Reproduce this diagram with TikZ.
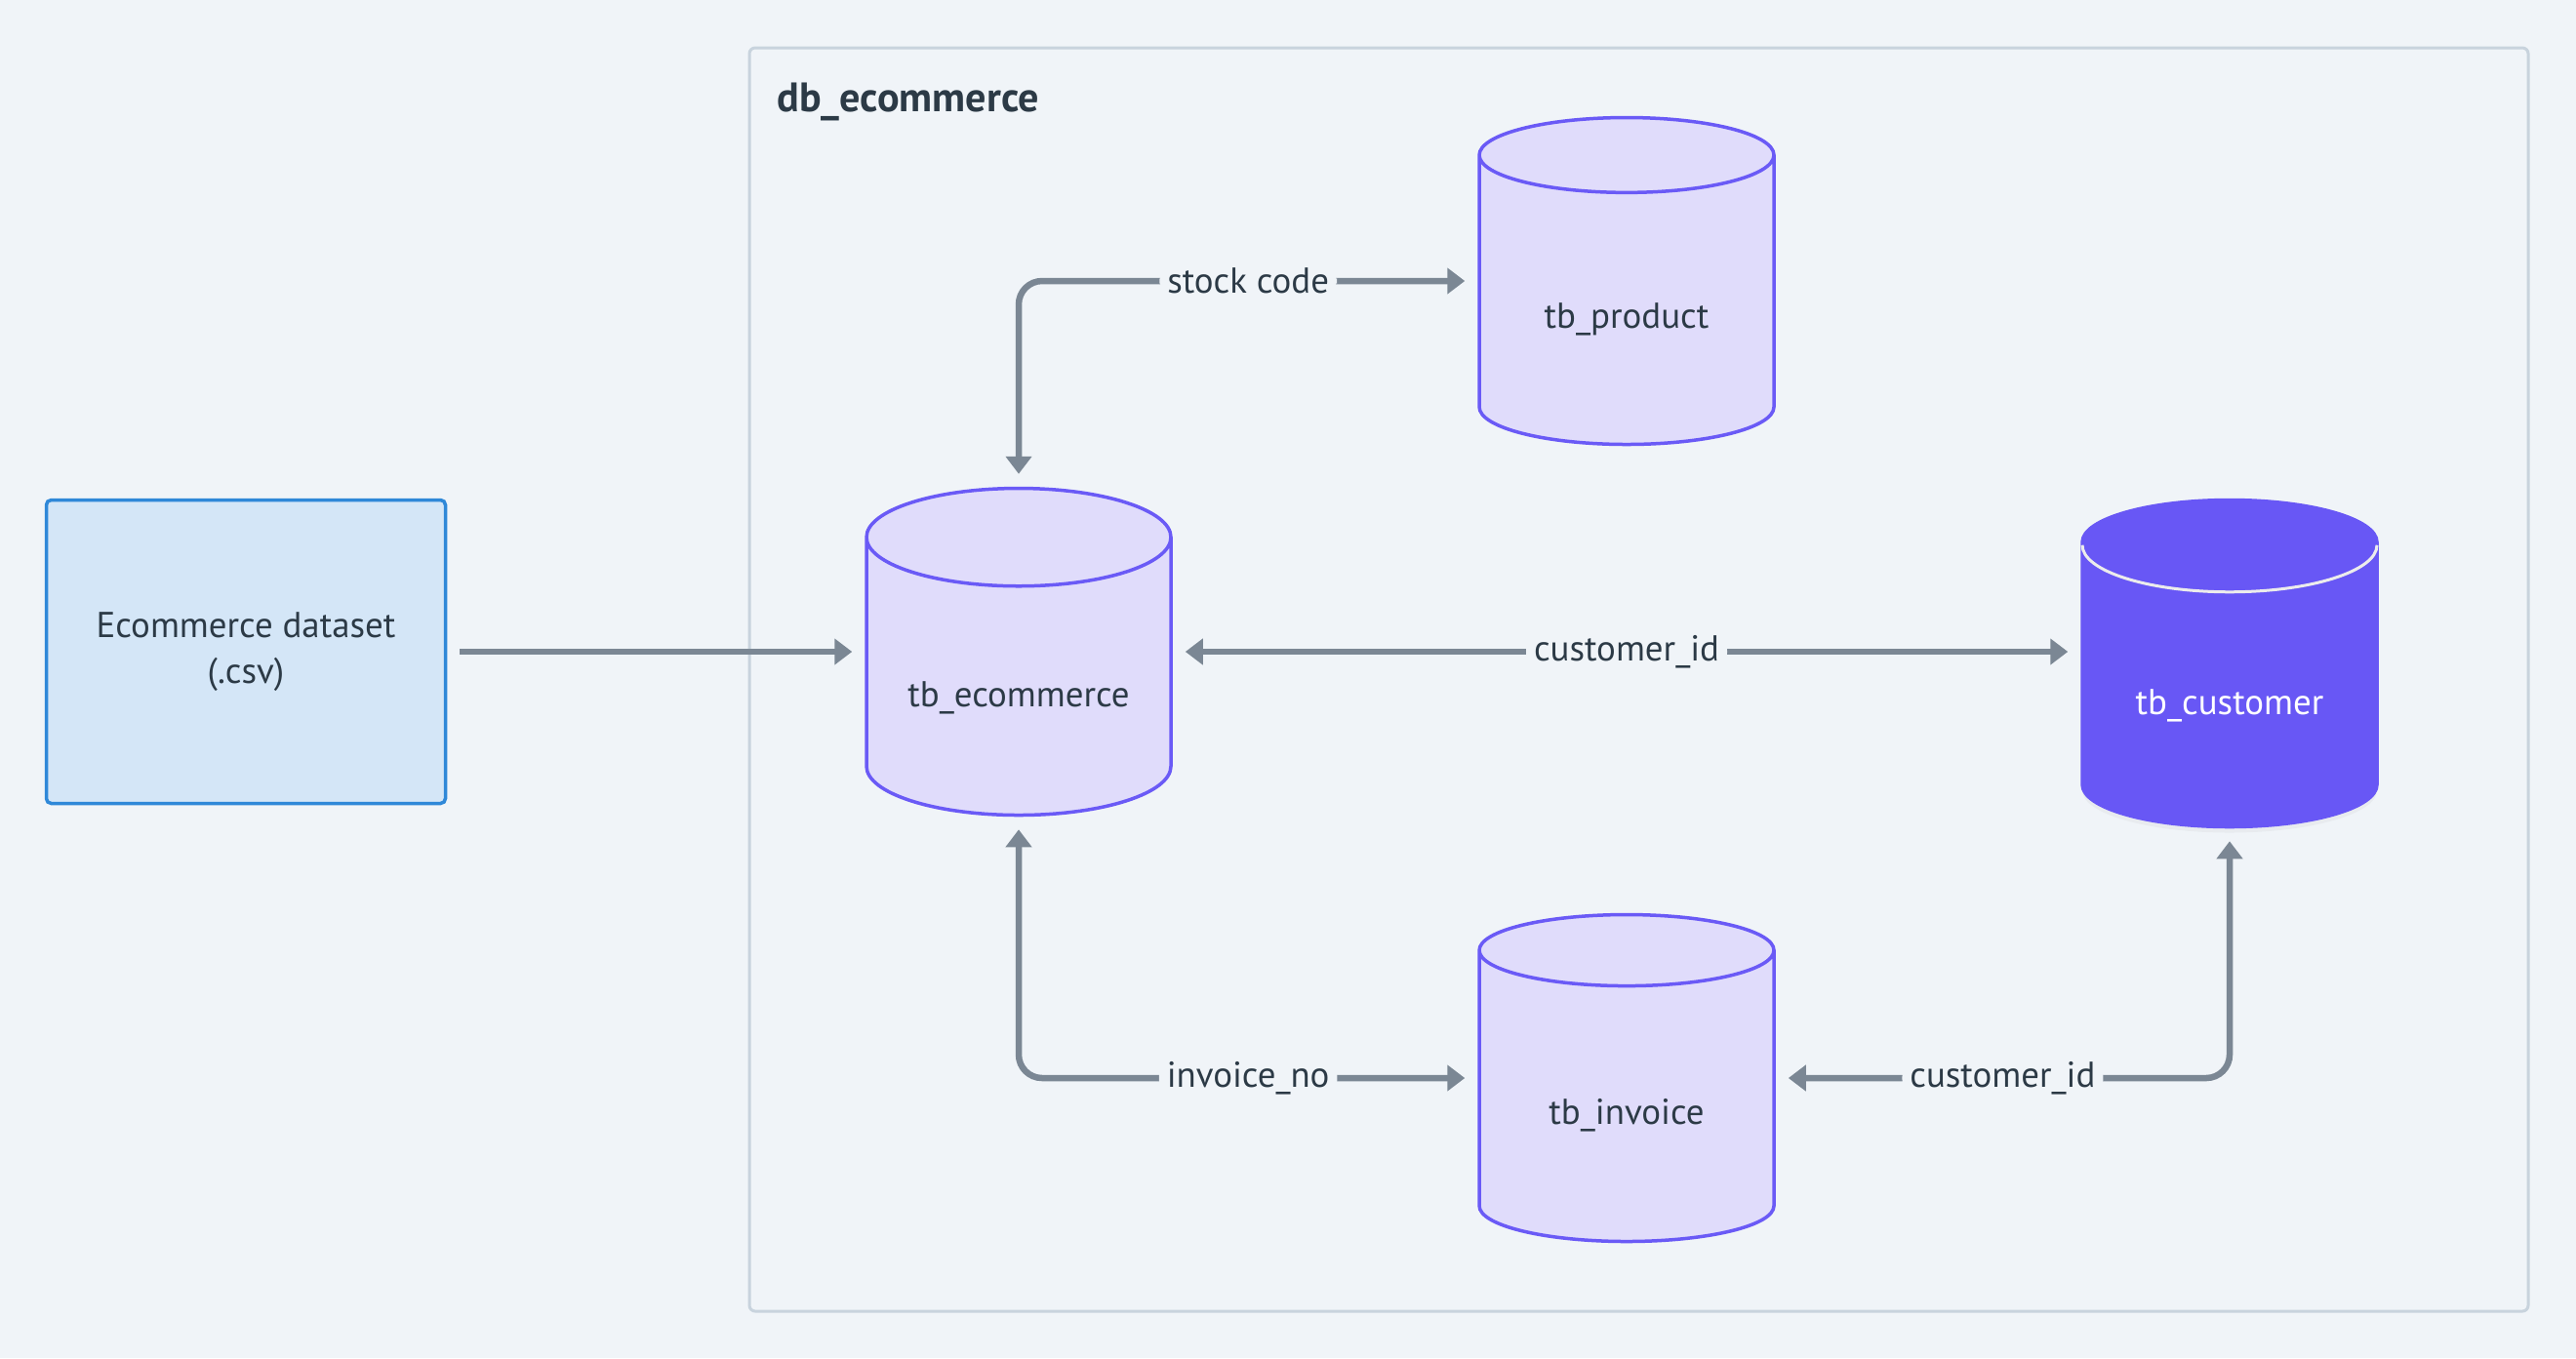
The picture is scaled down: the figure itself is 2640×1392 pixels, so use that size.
\documentclass[tikz,border=0pt]{standalone}
\usepackage{fontspec}
\setmainfont{PT Sans}
\usepackage{tikz}
\usetikzlibrary{arrows.meta, shapes.geometric, shadows, calc}

\definecolor{bgcol}{HTML}{F0F4F8}
\definecolor{framecol}{HTML}{C8D3DD}
\definecolor{csvfill}{HTML}{D4E6F7}
\definecolor{csvline}{HTML}{2F88D8}
\definecolor{tbfill}{HTML}{E0DCFB}
\definecolor{tbline}{HTML}{6A5AF6}
\definecolor{custfill}{HTML}{6857F5}
\definecolor{linkcol}{HTML}{7B8794}
\definecolor{txtcol}{HTML}{2C3A46}

\tikzset{
  dbtable/.style={cylinder, shape border rotate=90, shape aspect=0.4, anchor=shape center, draw=tbline, line width=0.35mm,
    fill=tbfill, minimum width=30.2mm, minimum height=33.5mm, text height=5mm, text=txtcol, font=\fontsize{10.5}{12}\selectfont},
  link/.style={draw=linkcol, line width=0.65mm, rounded corners=2.4mm,
    {Triangle[length=1.8mm,width=2.6mm]}-{Triangle[length=1.8mm,width=2.6mm]}, shorten >=1.3mm, shorten <=1.3mm},
  lbl/.style={fill=bgcol, text=txtcol, inner sep=0.8mm, font=\fontsize{10.5}{12}\selectfont}
}

\begin{document}
\begin{tikzpicture}[x=0.1mm, y=-0.1mm]

\fill[bgcol] (0,0) rectangle (2640,1392);
\draw[framecol, line width=0.3mm, rounded corners=0.6mm] (768,49) rectangle (2591,1344);
\node[anchor=west, text=txtcol, font=\fontsize{12}{14}\selectfont\bfseries] (title) at (784,104) {db\_ecommerce};

\node[draw=csvline, fill=csvfill, line width=0.35mm, rounded corners=0.5mm, minimum width=40.9mm, minimum height=31.1mm,
      align=center, text=txtcol, font=\fontsize{10.5}{13.5}\selectfont] (csv) at (252,668) {Ecommerce dataset\\(.csv)};

\node[dbtable, minimum width=31.2mm] (ecom) at (1044,668) {tb\_ecommerce};
\node[dbtable] (product) at (1667,288) {tb\_product};
\node[dbtable] (invoice) at (1667,1105) {tb\_invoice};
\node[dbtable, draw=custfill, fill=custfill, text=white, drop shadow={opacity=0.07, shadow xshift=0mm, shadow yshift=-0.6mm}] (cust) at (2285,680) {tb\_customer};
\draw[white!85!gray, line width=0.3mm] ($(cust.north)+(-151,48)$) arc[start angle=180, end angle=360, x radius=15.1mm, y radius=4.8mm];

%% csv -> ecommerce
\draw[draw=linkcol, line width=0.65mm, -{Triangle[length=1.8mm,width=2.6mm]}, shorten >=1.3mm, shorten <=1.3mm] (csv.east) -- (ecom.west |- csv.east);

%% stock code
\draw[link] (ecom.north) |- node[lbl, pos=0.75] {stock code} (product.west |- product.shape center);
%% customer_id
\draw[link] (ecom.east |- ecom.shape center) -- node[lbl] {customer\_id} (cust.west |- ecom.shape center);
%% invoice_no
\draw[link] (ecom.south) |- node[lbl, pos=0.75] {invoice\_no} (invoice.west |- invoice.shape center);
%% invoice -> customer
\draw[link] (invoice.east |- invoice.shape center) -| node[lbl, pos=0.25] {customer\_id} (cust.south);

\end{tikzpicture}
\end{document}
